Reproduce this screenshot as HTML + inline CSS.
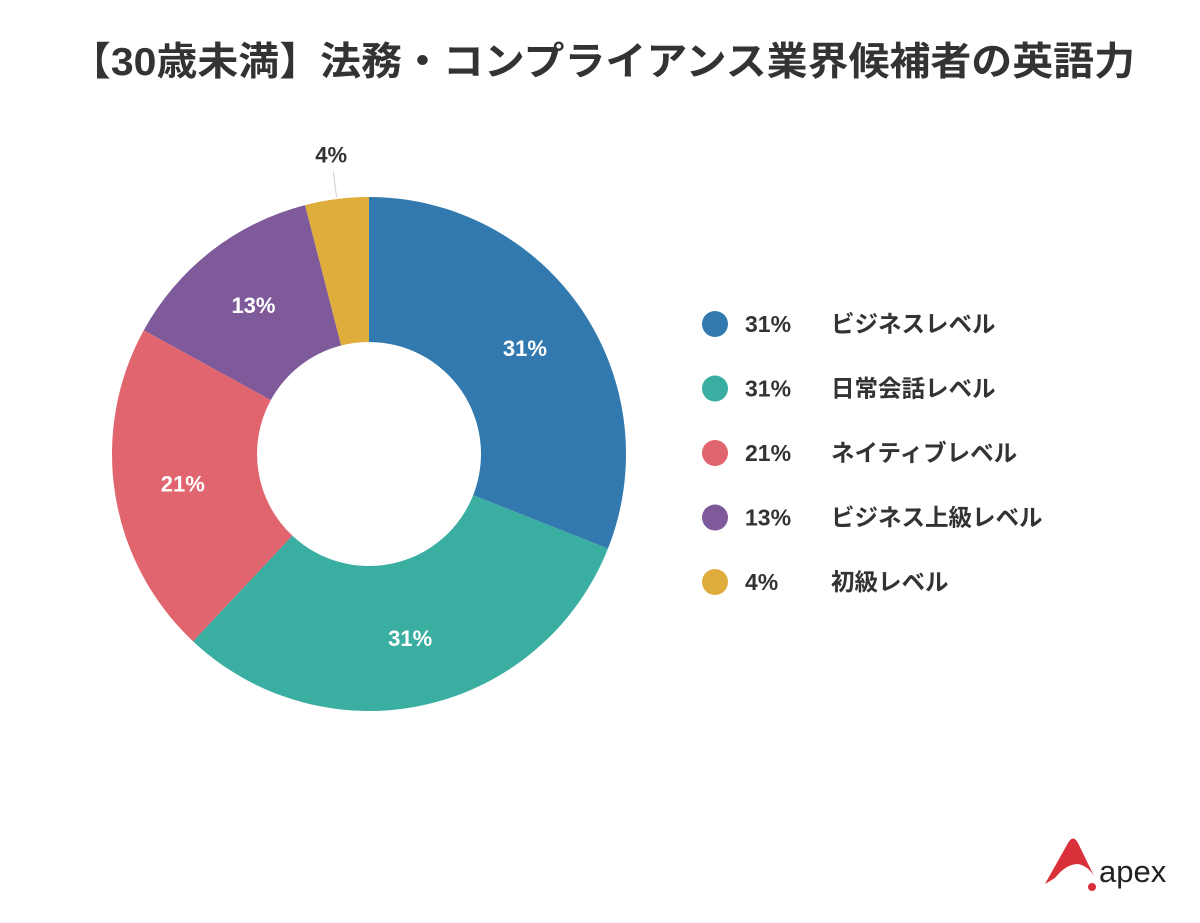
<!DOCTYPE html>
<html><head><meta charset="utf-8"><style>
body{margin:0;width:1200px;height:918px;background:#fff;font-family:"Liberation Sans","Noto Sans CJK JP",sans-serif;overflow:hidden}
</style></head><body>
<svg width="1200" height="918" viewBox="0 0 1200 918">
<text x="70" y="75" textLength="1065" lengthAdjust="spacingAndGlyphs" font-size="39" font-weight="bold" fill="#333" font-family="'Liberation Sans','Noto Sans CJK JP',sans-serif">【30歳未満】法務・コンプライアンス業界候補者の英語力</text>
<g id="pie"></g>
<g id="legend"></g>
<g>
<path d="M1045,884 L1068,843 Q1073,834 1078,843 L1094,876 Q1088,866 1078,864 Q1066,864 1055,878 Z" fill="#d9303a"/>
<circle cx="1092" cy="887" r="4" fill="#d9303a"/>
<text x="1099" y="882" font-size="31" fill="#222" font-family="'Liberation Sans',sans-serif">apex</text>
</g>
</svg>
<script>
const categories=["ビジネスレベル","日常会話レベル","ネイティブレベル","ビジネス上級レベル","初級レベル"];
const values=[31,31,21,13,4];
const colors=["#3179ae","#3baea2","#e0656e","#7f5a9b","#dfad3c"];
const NS="http://www.w3.org/2000/svg";
const cx=369,cy=454,R=257,r=112;
const pie=document.getElementById('pie');
const total=values.reduce((a,b)=>a+b,0);
function pt(a,rad){return [cx+rad*Math.sin(a),cy-rad*Math.cos(a)];}
let acc=0;
values.forEach((v,i)=>{
 const a0=acc/total*2*Math.PI;acc+=v;const a1=acc/total*2*Math.PI;
 const lg=(a1-a0)>Math.PI?1:0;
 const [x0,y0]=pt(a0,R),[x1,y1]=pt(a1,R),[x2,y2]=pt(a1,r),[x3,y3]=pt(a0,r);
 const p=document.createElementNS(NS,'path');
 p.setAttribute('d',`M${x0},${y0}A${R},${R} 0 ${lg} 1 ${x1},${y1}L${x2},${y2}A${r},${r} 0 ${lg} 0 ${x3},${y3}Z`);
 p.setAttribute('fill',colors[i]);
 
 
 pie.appendChild(p);
 const am=(a0+a1)/2;
 const t=document.createElementNS(NS,'text');
 let lx,ly,fill='#fff';
 if(v<8){[lx,ly]=pt(am,R+45);fill='#333';
  const l=document.createElementNS(NS,'line');const[q1,q2]=pt(am,R+2);const[q3,q4]=pt(am,R+28);
  l.setAttribute('x1',q1);l.setAttribute('y1',q2);l.setAttribute('x2',q3);l.setAttribute('y2',q4);l.setAttribute('stroke','#ccc');
  
  
  pie.appendChild(l);
 } else {[lx,ly]=pt(am,(R+r)/2+4);}
 t.setAttribute('x',lx);t.setAttribute('y',ly+8);t.setAttribute('text-anchor','middle');
 t.setAttribute('font-size','22');t.setAttribute('font-weight','bold');t.setAttribute('fill',fill);
 t.textContent=v+'%';
 
 
 pie.appendChild(t);
});
const lg=document.getElementById('legend');
categories.forEach((c,i)=>{
 const y=324+i*64.5;
 const g=document.createElementNS(NS,'g');
 
 
 const ci=document.createElementNS(NS,'circle');
 ci.setAttribute('cx',715);ci.setAttribute('cy',y);ci.setAttribute('r',13);ci.setAttribute('fill',colors[i]);
 g.appendChild(ci);
 const t1=document.createElementNS(NS,'text');
 t1.setAttribute('x',745);t1.setAttribute('y',y+8);t1.setAttribute('font-size','23');t1.setAttribute('font-weight','bold');t1.setAttribute('fill','#333');
 t1.textContent=values[i]+'%';g.appendChild(t1);
 const t2=document.createElementNS(NS,'text');
 t2.setAttribute('x',831);t2.setAttribute('y',y+8);t2.setAttribute('font-size','23.5');t2.setAttribute('font-weight','bold');t2.setAttribute('fill','#333');
 t2.textContent=c;g.appendChild(t2);
 lg.appendChild(g);
});
</script>
</body></html>
